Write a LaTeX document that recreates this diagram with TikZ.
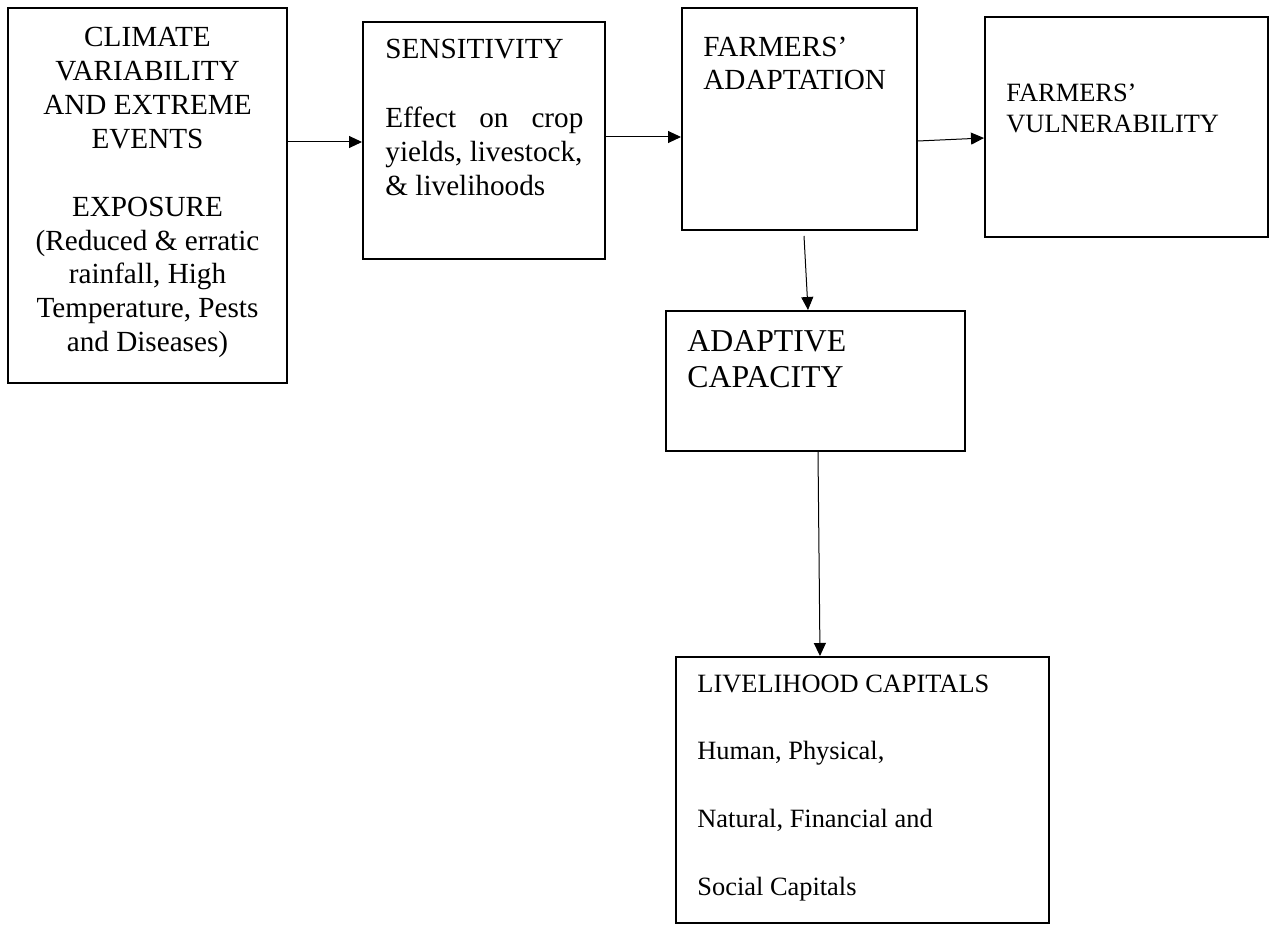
\documentclass[tikz,border=0pt]{standalone}
\usepackage{fontspec}
\setmainfont{Liberation Serif}
\usetikzlibrary{arrows.meta}
\begin{document}
\begin{tikzpicture}[x=0.5pt,y=-0.5pt,
  box/.style={draw, line width=1pt, inner sep=0pt},
  arr/.style={-{Triangle[length=6.5pt,width=6pt]}, line width=0.5pt},
  lbl/.style={inner sep=0pt, anchor=base west, align=left},
  fA/.style={font=\fontsize{14.6}{17}\selectfont}]
\useasboundingbox (0,0) rectangle (1270,925);
% boxes
\node[box, minimum width=139.5pt, minimum height=187.5pt] (clim) at (147.5,195.5) {};
\node[box, minimum width=121pt, minimum height=118.5pt] (sens) at (484,140.5) {};
\node[box, minimum width=117.5pt, minimum height=111pt] (adapt) at (799.5,119) {};
\node[box, minimum width=141.5pt, minimum height=110pt] (vuln) at (1126.5,127) {};
\node[box, minimum width=149.5pt, minimum height=70pt] (cap) at (815.5,381) {};
\node[box, minimum width=186.5pt, minimum height=133pt] (live) at (862.5,790) {};
% texts (anchored at the baseline of their last line)
\node[inner sep=0pt, anchor=base, align=center, fA] (climtxt) at (147.5,352)
  {CLIMATE\\VARIABILITY\\AND EXTREME\\EVENTS\\[17pt]EXPOSURE\\(Reduced \& erratic\\rainfall, High\\Temperature, Pests\\and Diseases)};
\node[lbl, font=\fontsize{14.6}{17.2}\selectfont] (senstxt) at (385,196)
  {SENSITIVITY\\[17.2pt]\makebox[99pt][s]{Effect on crop}\\yields, livestock,\\\& livelihoods};
\node[lbl, font=\fontsize{14.6}{16.5}\selectfont] (adapttxt) at (703,90) {FARMERS’\\ADAPTATION};
\node[lbl, font=\fontsize{13.2}{15.5}\selectfont] (vulntxt) at (1006,133) {FARMERS’\\VULNERABILITY};
\node[lbl, font=\fontsize{15.9}{17.5}\selectfont] (captxt) at (687,387) {ADAPTIVE\\CAPACITY};
\node[lbl, font=\fontsize{13.2}{33.8}\selectfont] (livetxt) at (697,895)
  {LIVELIHOOD CAPITALS\\Human, Physical,\\Natural, Financial and\\Social Capitals};
% connectors
\draw[arr] (clim.east |- 0,142) -- (sens.west |- 0,142);
\draw[arr] (sens.east |- 0,137) -- (adapt.west |- 0,137);
\draw[arr] (adapt.east |- 0,141) -- (vuln.west |- 0,138);
\draw[arr] ([yshift=-2.5pt]adapt.south -| 804,0) -- (cap.north -| 808,0);
\draw[arr] (cap.south -| 818,0) -- (live.north -| 820,0);
\end{tikzpicture}
\end{document}
